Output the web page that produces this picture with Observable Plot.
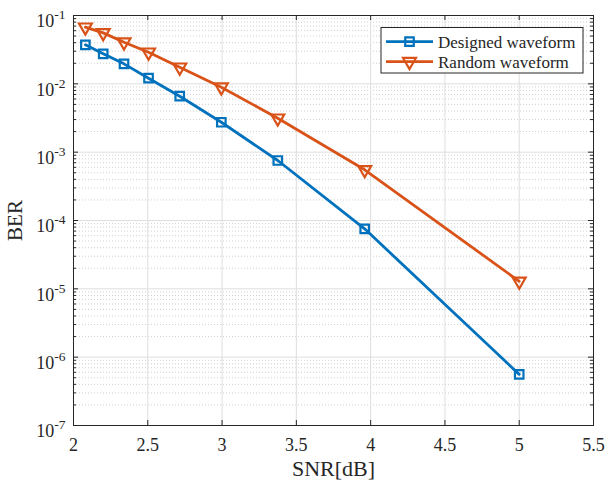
<!DOCTYPE html>
<html><head><meta charset="utf-8">
<script src="https://cdn.jsdelivr.net/npm/d3@7"></script>
<script src="https://cdn.jsdelivr.net/npm/@observablehq/plot@0.6"></script>
<style>
body{margin:0;background:#fff}
#chart{position:relative;width:608px;height:483px}
g[aria-label="x-axis label"]{font-size:22px}
g[aria-label="y-axis label"]{font-size:21px}
.legend text{font-family:"Liberation Serif","Times New Roman",serif;font-size:17px}
</style>
</head><body><div id="chart"></div>
<script>
const snr = [2.08, 2.2, 2.34, 2.505, 2.715, 2.995, 3.375, 3.96, 5.0];
const berDesigned = [0.0372, 0.0275, 0.0196, 0.0121, 0.00659, 0.00274, 7.55e-4, 7.55e-5, 5.6e-7];
const berRandom = [0.0674, 0.0557, 0.0407, 0.029, 0.0175, 0.00893, 3.14e-3, 5.52e-4, 1.29e-5];
const seriesNames = ["Designed waveform", "Random waveform"];
const seriesColors = ["#0072BD", "#D95319"];
const xTicks = [2, 2.5, 3, 3.5, 4, 4.5, 5, 5.5];
const xTickLabels = ["2", "2.5", "3", "3.5", "4", "4.5", "5", "5.5"];
const yTicks = [1e-7, 1e-6, 1e-5, 1e-4, 1e-3, 1e-2, 1e-1];
const yMinor = yTicks.slice(0, -1).flatMap(d => [2,3,4,5,6,7,8,9].map(k => k * d));

const designed = snr.map((x, i) => ({snr: x, ber: berDesigned[i], series: seriesNames[0]}));
const random = snr.map((x, i) => ({snr: x, ber: berRandom[i], series: seriesNames[1]}));
const data = designed.concat(random);

const W = 608, H = 483, mL = 73, mR = 15, mT = 15, mB = 58;
const pw = W - mL - mR, ph = H - mT - mB;
const axisColor = "#262626";
const lineW = 2.8, markR = 4.8, markW = 2.2;

const plot = Plot.plot({
  width: W, height: H, marginLeft: mL, marginRight: mR, marginTop: mT, marginBottom: mB,
  style: {fontFamily: "'Liberation Serif', 'Times New Roman', serif", fontSize: "18px", color: axisColor, background: "#fff", overflow: "visible"},
  x: {domain: [2, 5.5]},
  y: {type: "log", domain: [1e-7, 1e-1]},
  color: {domain: seriesNames, range: seriesColors},
  marks: [
    Plot.ruleY(yMinor, {stroke: "#c4c4c4", strokeWidth: 0.8, strokeDasharray: "1,2"}),
    Plot.ruleX(xTicks, {stroke: "#dedede", strokeWidth: 1}),
    Plot.ruleY(yTicks, {stroke: "#dedede", strokeWidth: 1}),
    Plot.line(data, {x: "snr", y: "ber", z: "series", stroke: "series", strokeWidth: lineW}),
    Plot.dot(designed, {x: "snr", y: "ber", symbol: "square", r: markR, stroke: "series", strokeWidth: markW, fill: "none"}),
    Plot.dot(random, {x: "snr", y: "ber", symbol: "triangle", rotate: 180, r: markR, stroke: "series", strokeWidth: markW, fill: "none"}),
    Plot.frame({stroke: axisColor, strokeWidth: 1}),
    Plot.tickY(yTicks, {stroke: axisColor, insetRight: pw - 5}),
    Plot.tickY(yTicks, {stroke: axisColor, insetLeft: pw - 5}),
    Plot.tickY(yMinor, {stroke: axisColor, insetRight: pw - 3}),
    Plot.tickY(yMinor, {stroke: axisColor, insetLeft: pw - 3}),
    Plot.tickX(xTicks, {stroke: axisColor, insetTop: ph - 5}),
    Plot.tickX(xTicks, {stroke: axisColor, insetBottom: ph - 5}),
    Plot.axisX(xTicks, {tickSize: 0, tickPadding: 13, tickFormat: d => xTickLabels[xTicks.indexOf(d)], label: "SNR[dB]", labelAnchor: "center", labelArrow: "none", labelOffset: 50, fill: axisColor}),
    Plot.axisY(yTicks, {tickSize: 0, tickPadding: 8, dy: 6, tickFormat: d => "10^" + Math.round(Math.log10(d)), label: "BER", labelAnchor: "center", labelArrow: "none", labelOffset: 66, fill: axisColor})
  ]
});

const svg = d3.select(plot);
svg.selectAll('g[aria-label="y-axis tick label"] text').each(function() {
  const t = d3.select(this);
  const s = t.text();
  const exp = s.split("^")[1];
  if (exp === undefined) return;
  t.text(null);
  t.append("tspan").text("10");
  t.append("tspan").attr("dy", "-8").attr("font-size", "13.5px").text(exp);
});

// legend
const lg = svg.append("g").attr("class", "legend").attr("text-anchor", "start");
lg.append("rect").attr("x", 381).attr("y", 27.5).attr("width", 202).attr("height", 45.5)
  .attr("fill", "#fff").attr("stroke", axisColor).attr("stroke-width", 1);
const symbols = [d3.symbolSquare, d3.symbolTriangle];
seriesNames.forEach((name, i) => {
  const cy = 41.7 + i * 20;
  const row = lg.append("g");
  row.append("line").attr("x1", 386).attr("x2", 433).attr("y1", cy).attr("y2", cy)
    .attr("stroke", seriesColors[i]).attr("stroke-width", lineW);
  row.append("path").attr("d", d3.symbol(symbols[i], Math.PI * markR * markR)())
    .attr("transform", `translate(409.5,${cy})` + (i === 1 ? " rotate(180)" : ""))
    .attr("fill", "none").attr("stroke", seriesColors[i]).attr("stroke-width", markW);
  row.append("text").attr("x", 438).attr("y", cy + 6).attr("text-anchor", "start").attr("fill", axisColor).text(name);
});

document.getElementById("chart").appendChild(plot);
</script>
</body></html>
